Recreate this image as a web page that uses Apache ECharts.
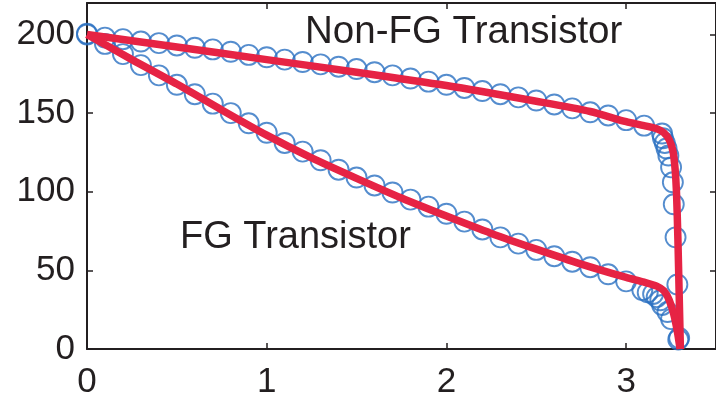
<!DOCTYPE html>
<html>
<head>
<meta charset="utf-8">
<script src="https://cdn.jsdelivr.net/npm/echarts@6/dist/echarts.min.js"></script>
<style>
html,body{margin:0;padding:0;background:#fff;}
#c{width:716px;height:400px;}
</style>
</head>
<body>
<div id="c"></div>
<script>
// Measured data (circles)
var nonFgX = [0,0.1,0.2,0.3,0.4,0.5,0.6,0.7,0.8,0.9,1.0,1.1,1.2,1.3,1.4,1.5,1.6,1.7,1.8,1.9,2.0,2.1,2.2,2.3,2.4,2.5,2.6,2.7,2.8,2.9,3.0,3.1,3.2,3.205,3.215,3.225,3.235,3.25,3.26,3.265,3.275,3.285,3.295];
var nonFgY = [200.5,198,197,195.5,194.5,193,191.5,190.5,189,187,185.5,184,182.5,181,179.5,178,176,174,172,170,168,166,164,162,160,158,155.5,153,150.5,148.5,145.5,142,137,134,131,127.5,123,115.5,106,92,71,41,7];
var fgX = [0,0.1,0.2,0.3,0.4,0.5,0.6,0.7,0.8,0.9,1.0,1.1,1.2,1.3,1.4,1.5,1.6,1.7,1.8,1.9,2.0,2.1,2.2,2.3,2.4,2.5,2.6,2.7,2.8,2.9,3.0,3.09,3.12,3.15,3.17,3.19,3.2,3.23,3.25,3.29];
var fgY = [200,194,187.5,180.5,174,168,162,156,150,143.5,137.5,131,125.5,120,114,109,104,99.5,95,90.5,86,81,76,71,67,63,59,55.5,52,47.5,43,37.5,36,35,33,31,28,23.5,19,6];
// Fitted curves (red)
var nonFgFitX = [0,0.5,1,1.5,2,2.5,2.8,3.0,3.1,3.17,3.21,3.24,3.26,3.272,3.28,3.288,3.295,3.302];
var nonFgFitY = [200,192,184,176,167.5,157.5,151,144.5,142,140,137.5,133,126,115,100,70,35,0];
var fgFitX = [0,0.25,0.5,0.75,1,1.25,1.5,1.75,2,2.25,2.5,2.75,3,3.1,3.17,3.21,3.24,3.265,3.285,3.3];
var fgFitY = [200,184,168.5,152,136,121.5,108.5,96,84.5,73.5,63.5,54,45.5,42.5,40,37,31,22,11,0];
// Axis ticks
var xTicks = [0,1,2,3];
var yTicks = [0,50,100,150,200];
var labelNonFg = 'Non-FG Transistor';
var labelFg = 'FG Transistor';

function zip(xs, ys){ return xs.map(function(x,i){ return [x, ys[i]]; }); }

var axisColor = '#231f20';
var FONT = "'Liberation Sans', Arial, sans-serif";
var blue = '#2b71c2';
var red = '#e62344';

var chart = echarts.init(document.getElementById('c'), null, {renderer:'canvas'});
var baseX = {
  type:'value', min:0, max:3.5, interval:1,
  axisLine:{show:true, onZero:false, lineStyle:{color:axisColor, width:2}},
  axisTick:{show:true, inside:true, length:6, lineStyle:{color:axisColor, width:1.5}},
  splitLine:{show:false}
};
var baseY = {
  type:'value', min:0, max:220, interval:50,
  axisLine:{show:true, onZero:false, lineStyle:{color:axisColor, width:2}},
  axisTick:{show:true, inside:true, length:6, lineStyle:{color:axisColor, width:1.5}},
  splitLine:{show:false}
};
chart.setOption({
  animation:false,
  backgroundColor:'#fff',
  grid:{left:87, right:-5, top:3, bottom:51, containLabel:false},
  xAxis:[
    Object.assign({}, baseX, {position:'bottom',
      axisLabel:{show:true, showMaxLabel:false, margin:16, color:axisColor, fontSize:35, fontFamily:FONT,
        formatter:function(v){ return xTicks.indexOf(v) >= 0 ? String(v) : ''; }}}),
    Object.assign({}, baseX, {position:'top', axisLabel:{show:false}})
  ],
  yAxis:[
    Object.assign({}, baseY, {position:'left',
      axisLabel:{show:true, showMaxLabel:false, margin:12, color:axisColor, fontSize:35, fontFamily:FONT,
        formatter:function(v){ return yTicks.indexOf(v) >= 0 ? String(v) : ''; }}}),
    Object.assign({}, baseY, {position:'right', axisLabel:{show:false}})
  ],
  series:[
    {type:'scatter', name:'Non-FG data', data:zip(nonFgX, nonFgY), symbol:'circle', symbolSize:20,
      itemStyle:{color:'rgba(0,0,0,0)', borderColor:blue, borderWidth:1.9}, z:2, clip:false},
    {type:'scatter', name:'FG data', data:zip(fgX, fgY), symbol:'circle', symbolSize:20,
      itemStyle:{color:'rgba(0,0,0,0)', borderColor:blue, borderWidth:1.9}, z:2, clip:false},
    {type:'line', name:'Non-FG fit', data:zip(nonFgFitX, nonFgFitY), showSymbol:false, smooth:0.25,
      lineStyle:{color:red, width:7.5}, z:3},
    {type:'line', name:'FG fit', data:zip(fgFitX, fgFitY), showSymbol:false, smooth:0.25,
      lineStyle:{color:red, width:7.5}, z:3}
  ],
  graphic:[
    {type:'text', left:305, top:13, style:{text:labelNonFg, fill:axisColor, font:'38.5px ' + FONT}},
    {type:'text', left:180, top:219, style:{text:labelFg, fill:axisColor, font:'38px ' + FONT}}
  ]
});
</script>
</body>
</html>
